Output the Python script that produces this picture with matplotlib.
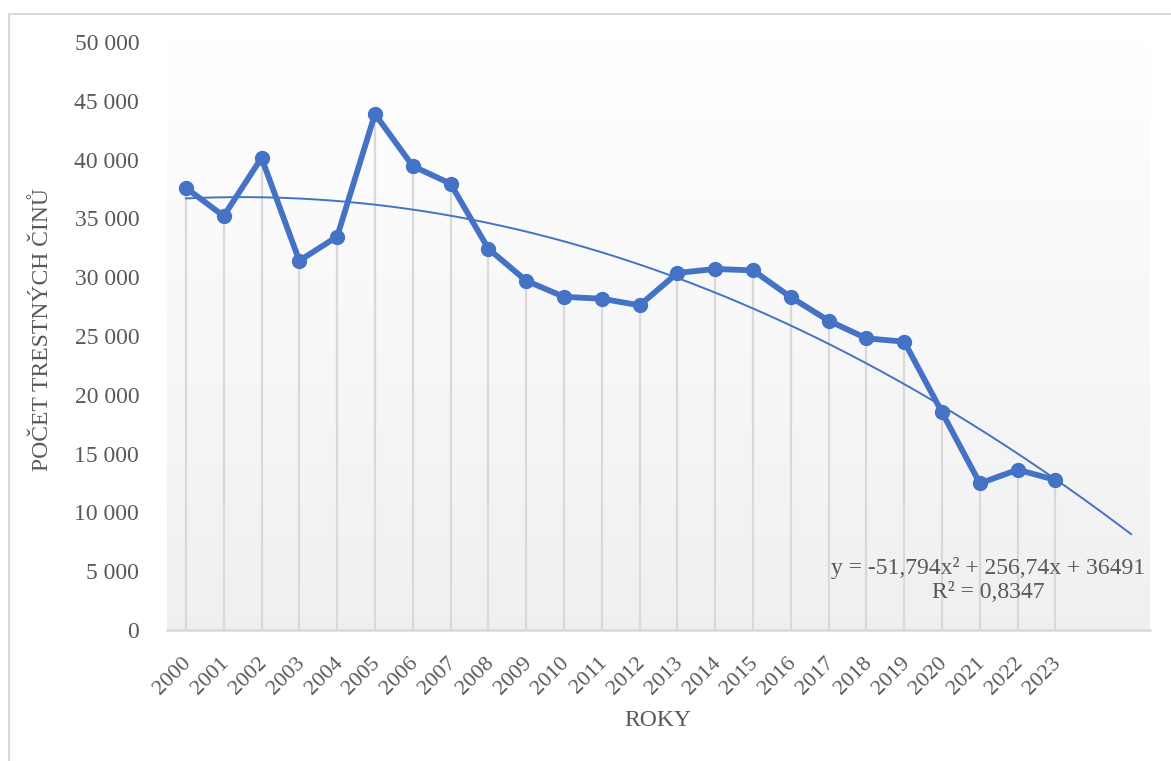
import matplotlib
matplotlib.use("Agg")
import matplotlib.pyplot as plt
import numpy as np
from matplotlib.ticker import FuncFormatter
from matplotlib.patches import Rectangle
from matplotlib.transforms import ScaledTranslation

plt.rcParams['font.family'] = ['Liberation Serif', 'DejaVu Serif']

# data
roky = ['2000', '2001', '2002', '2003', '2004', '2005', '2006', '2007', '2008', '2009', '2010', '2011',
        '2012', '2013', '2014', '2015', '2016', '2017', '2018', '2019', '2020', '2021', '2022', '2023']
pocet = [37600, 35200, 40150, 31400, 33450, 43880, 39450, 37950, 32420, 29700, 28330, 28170,
         27610, 30360, 30700, 30580, 28300, 26300, 24800, 24520, 18500, 12470, 13630, 12760]
# polynomial trendline shown in chart (forecast 2 periods forward)
trend_coef = [-51.794, 256.74, 36491]
trend_text = 'y = -51,794x² + 256,74x + 36491\nR² = 0,8347'

W, H = 1171, 761
fig = plt.figure(figsize=(W / 100, H / 100), dpi=100)
ax = fig.add_axes([167 / W, 1 - 630 / H, (1150 - 167) / W, (630 - 42) / H])

blue = '#4472C4'
grey_txt = '#595959'

x = np.arange(len(roky))

# gradient background of plot area
grad = np.linspace(1.0, 0.94, 256).reshape(-1, 1)
ax.imshow(np.dstack([grad, grad, grad]), extent=[0, 1, 0, 1], transform=ax.transAxes,
          aspect='auto', zorder=0)

# drop lines
ax.vlines(x, 0, pocet, color='#d9d9d9', lw=1.6, zorder=1)

ax.plot(x, pocet, color=blue, lw=4.2, marker='o', ms=10, solid_capstyle='round', zorder=3)

# trendline
xt = np.linspace(1, len(roky) + 2, 300)
ax.plot(xt - 1, np.polyval(trend_coef, xt), color=blue, lw=1.4, zorder=2)

fig.text(988 / W, 1 - 580 / H, trend_text, fontsize=17, color=grey_txt, ha='center', va='center',
         multialignment='center', linespacing=1.15)

ax.set_xlim(-0.5, len(roky) + 1.5)
ax.set_ylim(0, 50000)
ax.set_yticks(np.arange(0, 50001, 5000))
ax.yaxis.set_major_formatter(FuncFormatter(lambda v, p: f"{int(v):,}".replace(",", " ")))
ax.set_xticks(x)
ax.set_xticklabels(roky, rotation=45, ha='right', va='top', rotation_mode='anchor')
ax.tick_params(axis='both', length=0, labelcolor=grey_txt)
ax.tick_params(axis='y', pad=20, labelsize=17)
ax.tick_params(axis='x', pad=17, labelsize=16)
# nudge x labels slightly left like Excel does
for lab in ax.get_xticklabels():
    lab.set_transform(lab.get_transform() + ScaledTranslation(-4 / 100, 0, fig.dpi_scale_trans))

for s in ['top', 'right', 'left']:
    ax.spines[s].set_visible(False)
ax.spines['bottom'].set_color('#d9d9d9')
ax.spines['bottom'].set_linewidth(1.8)
ax.spines['bottom'].set_zorder(1.5)

fig.text(43 / W, 1 - 330 / H, 'POČET TRESTNÝCH ČINŮ', rotation=90, fontsize=17, color=grey_txt,
         ha='center', va='center')
fig.text(658 / W, 1 - 720 / H, 'ROKY', fontsize=17, color=grey_txt, ha='center', va='center')

# outer chart border
fig.patches.append(Rectangle((9 / W, -0.1), 1.2, 1 - 14 / H + 0.1, transform=fig.transFigure,
                             fill=False, ec='#d9d9d9', lw=1.5))

fig.savefig('out.png', dpi=100)
